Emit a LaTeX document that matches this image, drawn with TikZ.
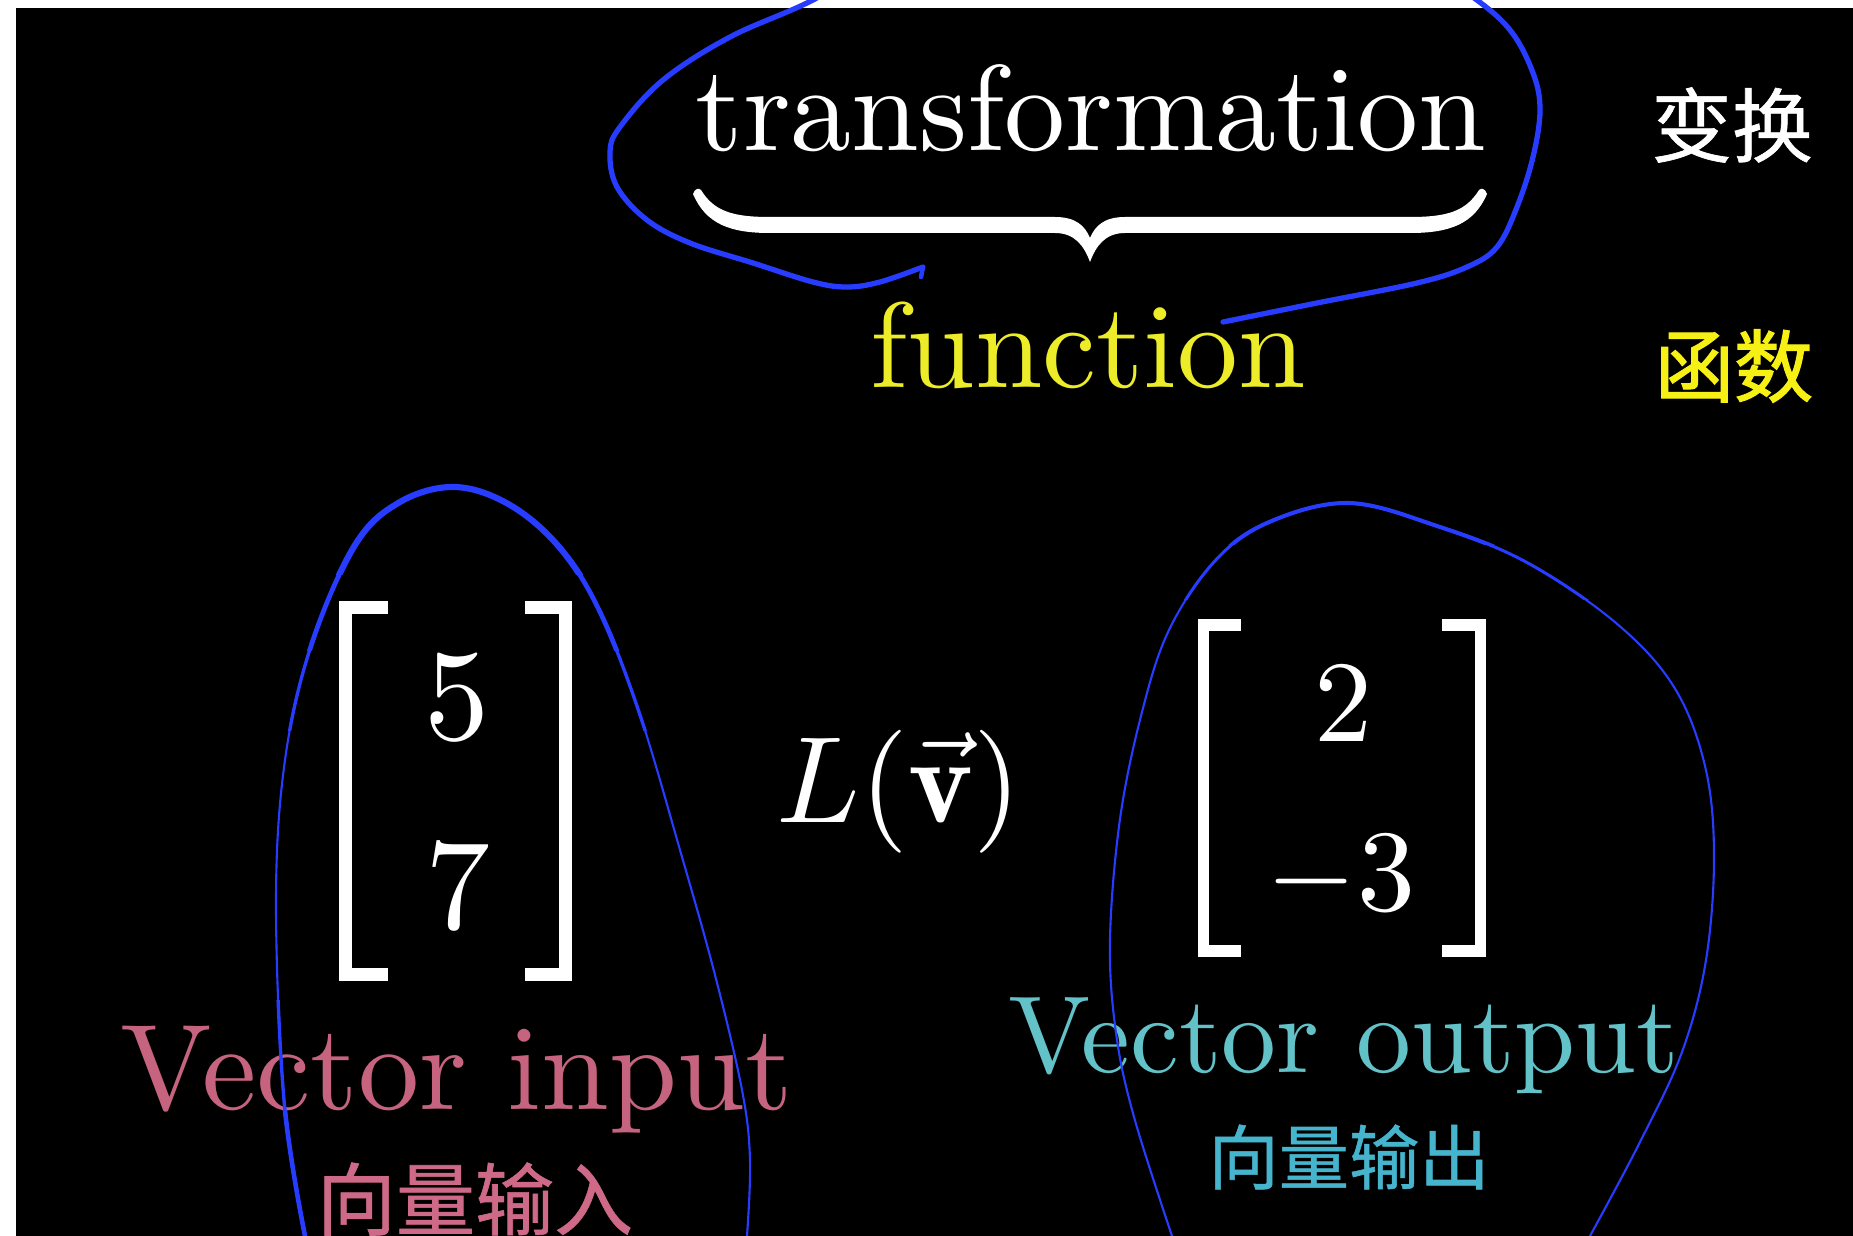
\documentclass[tikz,border=0pt]{standalone}
\usepackage{fontspec}
\usepackage{amsmath}
\usepackage{graphicx}
\newfontfamily\cjk[FakeBold=0.8]{Noto Sans CJK SC}
\newfontfamily\cjkb[FakeBold=1.6]{Noto Sans CJK SC}
\definecolor{penblue}{RGB}{40,60,255}
\definecolor{fyellow}{RGB}{236,236,40}
\definecolor{cyellow}{RGB}{246,240,20}
\definecolor{vpink}{RGB}{198,100,128}
\definecolor{cpink}{RGB}{206,106,136}
\definecolor{vcyan}{RGB}{98,194,200}
\definecolor{ccyan}{RGB}{70,180,205}
\tikzset{
  pen/.style={draw=penblue, line cap=round, line join=round},
  bracketline/.style={draw=white, line join=miter, line cap=butt},
  txt/.style={text=white, inner sep=0pt},
}
\newcommand\leftloop[1]{\draw[pen, line width=#1] plot[smooth, tension=0.6] coordinates {
  (305,1236) (284,1100) (276,900) (285,760) (311,646) (355,545) (400,502)
  (455,487) (510,505) (560,548) (600,612) (640,715) (680,850) (715,975)
  (742,1090) (750,1160) (747,1236)};}
\newcommand\rightloop[1]{\draw[pen, line width=#1] plot[smooth, tension=0.6] coordinates {
  (1172,1236) (1134,1117) (1116,1033) (1110,940) (1120,819) (1142,712)
  (1169,630) (1214,562) (1267,523) (1348,503) (1437,526) (1526,562)
  (1616,623) (1674,687) (1705,766) (1714,855) (1706,960) (1682,1052)
  (1640,1142) (1590,1236)};}
\begin{document}
\begin{tikzpicture}[x=0.02cm,y=-0.02cm]
\useasboundingbox (0,0) rectangle (1853,1236);
\clip (0,0) rectangle (1853,1236);
\fill[white] (0,0) rectangle (1853,1236);
\fill[black] (16,8) rectangle (1853,1236);

% top texts
\node[txt, anchor=base] (trans) at (1091,151) {\scalebox{6.94}{transformation}};
\fill[white] (693,194) .. controls (706,224) and (730,233) .. (770,233) -- (1055,233)
  .. controls (1075,233) and (1084,246) .. (1090,262)
  .. controls (1096,246) and (1105,233) .. (1125,233) -- (1410,233)
  .. controls (1450,233) and (1474,224) .. (1487,194)
  .. controls (1485,188) and (1481,188) .. (1479,190)
  .. controls (1466,211) and (1448,217) .. (1410,217) -- (1125,217)
  .. controls (1104,217) and (1095,226) .. (1090,238)
  .. controls (1085,226) and (1076,217) .. (1055,217) -- (770,217)
  .. controls (732,217) and (714,211) .. (701,190)
  .. controls (699,188) and (695,188) .. (693,194) -- cycle;
\node[txt, anchor=base, text=fyellow] (func) at (1088,388) {\scalebox{6.91}{function}};
\node[txt] (bian) at (1732,125) {\cjk\fontsize{46}{50}\selectfont 变换};
\node[txt, text=cyellow] (hanshu) at (1734,366) {\cjkb\fontsize{45}{50}\selectfont 函数};

% left vector
\draw[bracketline, line width=7.4pt] (388,607.5) -- (345.5,607.5) -- (345.5,974.5) -- (388,974.5);
\draw[bracketline, line width=7.4pt] (525,607.5) -- (565.5,607.5) -- (565.5,974.5) -- (525,974.5);
\node[txt, anchor=base] (a1) at (457,739) {\scalebox{7.4}{5}};
\node[txt, anchor=base] (a2) at (458,928) {\scalebox{7.4}{7}};

% L(v)
\node[txt, anchor=base] (Lv) at (899,822) {\scalebox{7}{$L(\vec{\mathbf{v}})$}};

% right vector
\draw[bracketline, line width=6.5pt] (1241,625) -- (1203.5,625) -- (1203.5,951) -- (1241,951);
\draw[bracketline, line width=6.5pt] (1442,625) -- (1480.5,625) -- (1480.5,951) -- (1442,951);
\node[txt, anchor=base] (b1) at (1343,741) {\scalebox{6.6}{2}};
\node[txt, anchor=base] (b2) at (1341,910) {\scalebox{6.6}{$-3$}};

% labels
\node[txt, anchor=base, text=vpink] (vin) at (457,1109) {\scalebox{6.95}{Vector input}};
\node[txt, text=cpink] (vinc) at (475,1199) {\cjk\fontsize{45}{50}\selectfont 向量输入};
\node[txt, anchor=base, text=vcyan] (vout) at (1344,1072) {\scalebox{6.24}{Vector output}};
\node[txt, text=ccyan] (voutc) at (1349,1157) {\cjk\fontsize{40}{45}\selectfont 向量输出};

% blue pen strokes
\draw[pen, line width=3pt] plot[smooth, tension=0.6] coordinates {
  (1223,322) (1317,303) (1417,283) (1467,267) (1497,247) (1517,207) (1533,157)
  (1540,110) (1533,73) (1510,30) (1470,-5) (1400,-50) (1140,-80) (900,-50)
  (813,0) (730,37) (663,80) (620,127) (610,152) (617,187) (647,220) (690,243)
  (753,263) (813,282) (847,287) (880,282) (923,267)};
\draw[pen, line width=2.6pt] (923,267) -- (921,277);

\leftloop{1.2pt}
\begin{scope}\clip (0,0) rectangle (1853,730); \leftloop{1.9pt}\end{scope}
\begin{scope}\clip (0,0) rectangle (1853,650); \leftloop{2.7pt}\end{scope}
\begin{scope}\clip (0,0) rectangle (1853,575); \leftloop{3.5pt}\end{scope}
\begin{scope}\clip (0,1000) rectangle (400,1236); \leftloop{1.9pt}\end{scope}
\begin{scope}\clip (0,1110) rectangle (400,1236); \leftloop{2.6pt}\end{scope}

\rightloop{1.2pt}
\begin{scope}\clip (0,0) rectangle (1853,600); \rightloop{1.7pt}\end{scope}
\begin{scope}\clip (0,0) rectangle (1853,545); \rightloop{2.3pt}\end{scope}
\end{tikzpicture}
\end{document}
